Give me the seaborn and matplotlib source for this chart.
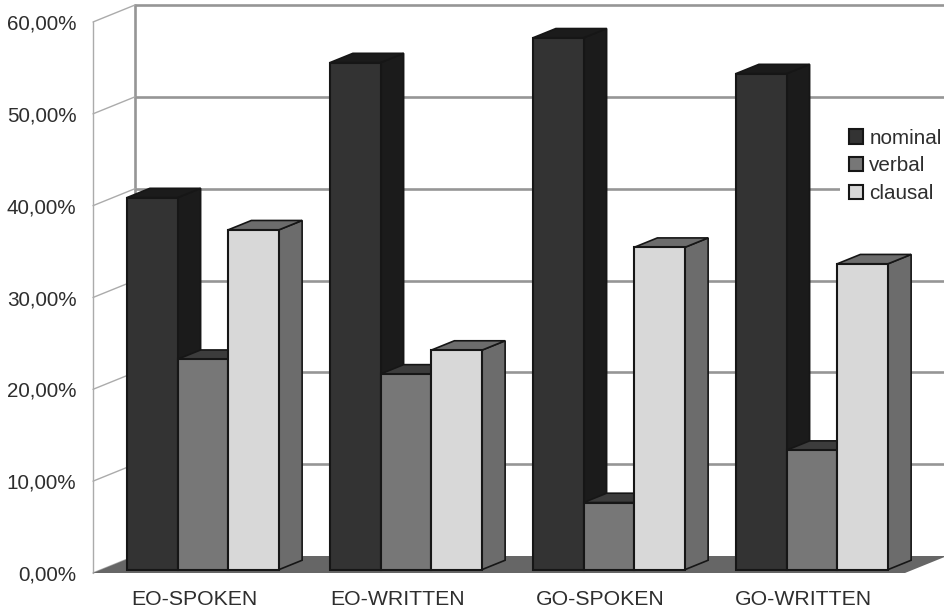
import matplotlib
matplotlib.use('Agg')
import matplotlib.pyplot as plt
from matplotlib.patches import Polygon
from matplotlib.ticker import FuncFormatter
import pandas as pd
import seaborn as sns

# values (percent)
groups = ['EO-SPOKEN', 'EO-WRITTEN', 'GO-SPOKEN', 'GO-WRITTEN']
nominal = [40.5, 55.2, 57.9, 54.0]
verbal = [22.9, 21.3, 7.3, 13.0]
clausal = [37.0, 23.9, 35.1, 33.3]
y_ticks = [0, 10, 20, 30, 40, 50, 60]

front_colors = {'nominal': '#333333', 'verbal': '#777777', 'clausal': '#d8d8d8'}
dark_colors = {'nominal': '#1b1b1b', 'verbal': '#3c3c3c', 'clausal': '#6c6c6c'}

df = pd.DataFrame({
    'group': groups * 3,
    'share': nominal + verbal + clausal,
    'type': ['nominal'] * 4 + ['verbal'] * 4 + ['clausal'] * 4,
})

sns.set_theme(style='white')
plt.rcParams['font.family'] = ['Liberation Sans', 'DejaVu Sans']

fig = plt.figure(figsize=(9.45, 6.11), dpi=100)
ax = fig.add_axes([93 / 945, 38 / 611, 812 / 945, 551 / 611])

sns.barplot(data=df, x='group', y='share', hue='type', order=groups,
            hue_order=list(front_colors), palette=front_colors, width=0.75,
            gap=0, saturation=1, edgecolor='#161616', linewidth=1.5, ax=ax)

ax.set_xlim(-0.5, 3.5)
ax.set_ylim(0, 60)

# depth of the fake 3d box, in data units
depth_x = 42 / 203
depth_y = 17 / (551 / 60)
wall_color = '#969696'

# back wall
for v in y_ticks[1:]:
    ax.plot([-0.5 + depth_x, 3.5 + depth_x], [v + depth_y] * 2, color=wall_color,
            lw=1.9, clip_on=False, zorder=1)
ax.plot([-0.5 + depth_x] * 2, [depth_y, 60 + depth_y], color=wall_color, lw=1.9,
        clip_on=False, zorder=1)
ax.plot([3.5 + depth_x] * 2, [depth_y, 60 + depth_y], color=wall_color, lw=1.9,
        clip_on=False, zorder=1)

# left wall
ax.plot([-0.5, -0.5], [0, 60], color='#ababab', lw=1, clip_on=False, zorder=1)
for v in y_ticks:
    ax.plot([-0.5, -0.5 + depth_x], [v, v + depth_y], color='#ababab', lw=1,
            clip_on=False, zorder=1)

# floor
ax.add_patch(Polygon([(-0.5, 0), (3.5, 0), (3.5 + depth_x, depth_y), (-0.5 + depth_x, depth_y)],
                     closed=True, facecolor='#666666', edgecolor='none',
                     clip_on=False, zorder=1.5))

# turn the flat bars into boxes
shift = 0.2
bar_dx = 0.55 * depth_x
bar_dy = 0.55 * depth_y
for i, (name, container) in enumerate(zip(front_colors, ax.containers)):
    for bar in container:
        x0 = bar.get_x() + shift * depth_x
        y0 = shift * depth_y
        w = bar.get_width()
        h = bar.get_height()
        bar.set_x(x0)
        bar.set_y(y0)
        bar.set_zorder(3.05 + i * 0.1)
        bar.set_clip_on(False)
        x1 = x0 + w
        y1 = y0 + h
        side = [(x1, y0), (x1 + bar_dx, y0 + bar_dy), (x1 + bar_dx, y1 + bar_dy), (x1, y1)]
        top = [(x0, y1), (x0 + bar_dx, y1 + bar_dy), (x1 + bar_dx, y1 + bar_dy), (x1, y1)]
        for pts in (side, top):
            ax.add_patch(Polygon(pts, closed=True, facecolor=dark_colors[name],
                                 edgecolor='#161616', lw=1.2, clip_on=False,
                                 zorder=3 + i * 0.1))

ax.set_yticks(y_ticks)
ax.yaxis.set_major_formatter(FuncFormatter(lambda v, _: f'{v:.2f}%'.replace('.', ',')))
ax.tick_params(axis='y', length=0, pad=12, labelsize=14.9, labelcolor='#2e2e2e')
ax.tick_params(axis='x', length=0, pad=12, labelsize=15.3, labelcolor='#2e2e2e')
ax.set_xlabel('')
ax.set_ylabel('')
sns.despine(ax=ax, left=True, bottom=True)
ax.patch.set_alpha(0)

handles, labels = ax.get_legend_handles_labels()
ax.legend(handles, labels, loc='upper left', bbox_to_anchor=((840 - 93) / 812, (573 - 120) / 551),
          frameon=True, facecolor='white', edgecolor='none', framealpha=1, fancybox=False,
          fontsize=14.9, labelcolor='#2e2e2e', handlelength=0.68, handleheight=0.68,
          handletextpad=0.32, labelspacing=0.42, borderpad=0.42, borderaxespad=0)

fig.savefig('out.png', dpi=100)
